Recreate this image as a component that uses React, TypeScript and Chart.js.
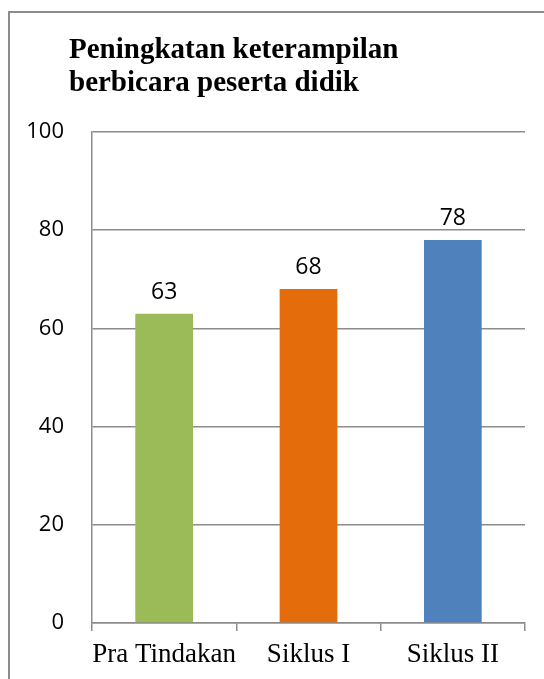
import React, { useEffect, useRef } from "react";
import { Chart, registerables } from "chart.js";

Chart.register(...registerables);

const categories = ["Pra Tindakan", "Siklus I", "Siklus II"];
const values = [63, 68, 78];
const barColors = ["#9BBB59", "#E46C0A", "#4F81BD"];
const titleLines = ["Peningkatan keterampilan", "berbicara peserta didik"];
const yMin = 0;
const yMax = 100;
const yStep = 20;

const framePlugin = {
  id: "frame",
  beforeDraw(chart: any) {
    const ctx = chart.ctx;
    ctx.save();
    ctx.fillStyle = "#ffffff";
    ctx.fillRect(0, 0, chart.width, chart.height);
    ctx.strokeStyle = "#8c8c8c";
    ctx.lineWidth = 2;
    ctx.beginPath();
    ctx.moveTo(9, chart.height);
    ctx.lineTo(9, 12);
    ctx.lineTo(chart.width, 12);
    ctx.stroke();
    ctx.restore();
  },
  afterDraw(chart: any) {
    const ctx = chart.ctx;
    ctx.save();
    ctx.fillStyle = "#000000";
    ctx.font = 'bold 29px "Liberation Serif", "Times New Roman", serif';
    ctx.textAlign = "left";
    ctx.textBaseline = "alphabetic";
    titleLines.forEach((line, i) => {
      ctx.fillText(line, 69, 58 + i * 33);
    });
    ctx.font = '23px "Open Sans", sans-serif';
    ctx.textAlign = "center";
    const meta = chart.getDatasetMeta(0);
    meta.data.forEach((bar: any, i: number) => {
      ctx.fillText(String(values[i]), bar.x, bar.y - 15);
    });
    ctx.restore();
  },
};

export default function App() {
  const ref = useRef<HTMLCanvasElement | null>(null);

  useEffect(() => {
    if (!ref.current) return;
    const chart = new Chart(ref.current, {
      type: "bar",
      data: {
        labels: categories,
        datasets: [
          {
            data: values,
            backgroundColor: barColors,
            borderWidth: 0,
            categoryPercentage: 1,
            barPercentage: 0.4,
          },
        ],
      },
      options: {
        animation: false,
        responsive: false,
        maintainAspectRatio: false,
        layout: { padding: { top: 132, right: 19, bottom: 0, left: 0 } },
        plugins: {
          legend: { display: false },
          title: { display: false },
          tooltip: { enabled: false },
        },
        scales: {
          x: {
            grid: {
              offset: true,
              drawOnChartArea: false,
              drawTicks: true,
              tickLength: 8,
              color: "#8c8c8c",
              lineWidth: 1.5,
            },
            border: { display: true, color: "#8c8c8c", width: 1.5 },
            ticks: {
              color: "#000000",
              padding: 8,
              autoSkip: false,
              maxRotation: 0,
              minRotation: 0,
              font: { family: '"Liberation Serif", "Times New Roman", serif', size: 27 },
            },
            afterFit(scale: any) {
              scale.height = 56;
            },
          },
          y: {
            min: yMin,
            max: yMax,
            ticks: {
              stepSize: yStep,
              color: "#000000",
              padding: 28,
              font: { family: '"Open Sans", sans-serif', size: 22 },
            },
            grid: {
              drawTicks: false,
              color: "#8c8c8c",
              lineWidth: 1.5,
            },
            border: { display: true, color: "#8c8c8c", width: 1.5 },
            afterFit(scale: any) {
              scale.width = 92;
            },
          },
        },
      },
      plugins: [framePlugin],
    });
    return () => chart.destroy();
  }, []);

  return (
    <div style={{ position: "absolute", left: 0, top: 0, width: 544, height: 679 }}>
      <canvas ref={ref} width={544} height={679} style={{ display: "block", width: 544, height: 679 }} />
    </div>
  );
}
